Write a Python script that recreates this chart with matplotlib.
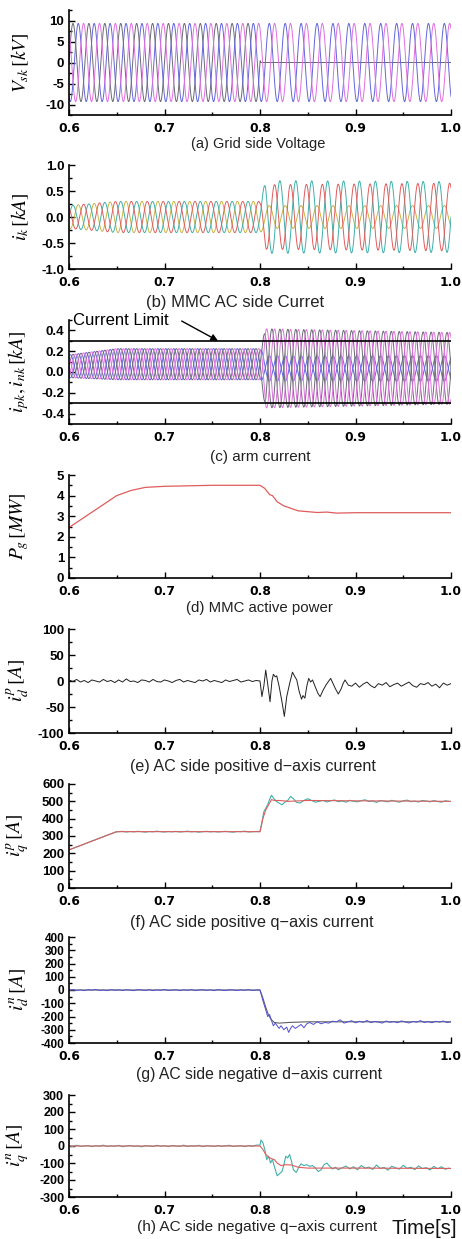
"""
plot.py

MMC fault response waveforms, 8 stacked panels (grid voltage, AC current,
arm current, active power, dq currents).
"""

import numpy as np
import matplotlib
matplotlib.use('Agg')
import matplotlib.pyplot as plt
from matplotlib.ticker import MultipleLocator, FormatStrFormatter

plt.rcParams['font.family'] = ['Liberation Sans', 'DejaVu Sans']
plt.rcParams['mathtext.fontset'] = 'stix'
plt.rcParams['axes.unicode_minus'] = False

# ---------------- data ----------------
F_GRID = 60.0                     # Hz, 6 cycles per 0.1 s
# (a) grid voltage amplitude envelope [kV]
v_env_t = [0.6, 0.8, 0.8005, 1.0]
v_amp_a = [9.3, 9.3, 0.0, 0.0]    # faulted phase goes to zero
v_amp_b = [9.3, 9.3, 9.3, 9.3]
v_amp_c = [9.3, 9.3, 9.3, 9.3]
v_phase = [0.0, -120.0, 120.0]    # deg

# (b) MMC AC side current amplitude envelope [kA]
i_env_t = [0.6, 0.65, 0.8, 0.806, 1.0]
i_amp_red = [0.22, 0.30, 0.30, 0.62, 0.65]
i_amp_teal = [0.22, 0.30, 0.30, 0.70, 0.68]
i_amp_olive = [0.22, 0.30, 0.30, 0.22, 0.22]
i_phase = [120.0, 0.0, -120.0]
# (c) arm current [kA]: dc part and ac amplitudes on the same envelope times
arm_dc = [0.055, 0.075, 0.075, 0.035, 0.035]
arm_amp_big = [0.11, 0.15, 0.15, 0.38, 0.345]
arm_amp_small = [0.11, 0.15, 0.15, 0.12, 0.12]
i_limit = 0.3

# (d) MMC active power [MW]
p_t = [0.6, 0.65, 0.665, 0.68, 0.70, 0.75, 0.80, 0.805, 0.81, 0.813, 0.818,
       0.825, 0.83, 0.84, 0.85, 0.86, 0.87, 0.88, 0.90, 1.0]
p_val = [2.45, 4.0, 4.25, 4.4, 4.45, 4.5, 4.5, 4.35, 4.05, 4.0, 3.7,
         3.5, 3.42, 3.26, 3.22, 3.18, 3.2, 3.15, 3.17, 3.17]

# (e) positive d-axis current [A]
ed_pre = [2, -1, 3, -2, 1, -3, 2, 0, -2, 3, -1, 1, -3, 2, -2, 4, -1, 0, -3, 2,
          1, -2, 3, -1, -2, 2, 0, -3, 1, 3, -2, 1, -1, -3, 2, 0, 3, -2, 1, -1,
          -3, 2, -1, 1, 3, -2, 0, 2, -1, 1]
ed_tr_t = [0.800, 0.802, 0.804, 0.806, 0.808, 0.8105, 0.8125, 0.814, 0.816,
           0.8175, 0.820, 0.823, 0.8255, 0.828, 0.831, 0.834, 0.836, 0.8385,
           0.841, 0.8435, 0.845, 0.847, 0.849, 0.851, 0.853, 0.855, 0.858,
           0.861, 0.863, 0.866, 0.869, 0.872, 0.874, 0.876, 0.879, 0.882,
           0.885, 0.887, 0.889, 0.8925]
ed_tr_v = [0, -30, -10, 21, -5, -40, 0, 13, 8, 10, -10, -40, -68, -30, -5, 17,
           10, 2, -20, -35, -28, -33, -10, 5, -2, 2, -12, -25, -30, -18, -8, 0,
           5, -3, -15, -25, -15, -5, 2, -8]
ed_post = [-10, -4, -12, -6, -2, -9, -13, -5, -8, -3, -11, -7, -4, -10, -6, -2,
           -9, -12, -5, -7, -3, -10, -6, -13, -4, -8, -5]

# (f) positive q-axis current [A]
fq_red_t = [0.6, 0.65, 0.8, 0.803, 0.806, 0.809, 0.812, 0.815, 0.82, 0.83,
            0.85, 0.9, 1.0]
fq_red_v = [220, 325, 325, 400, 450, 480, 510, 505, 505, 500, 505, 503, 500]
fq_pre = [220, 228, 237, 245, 254, 262, 271, 279, 288, 296, 305, 313, 322,
          325, 327, 323, 326, 324, 327, 325, 322, 326, 324, 328, 325, 323, 326,
          324, 327, 323, 325, 328, 324, 326, 322, 325, 327, 324, 326, 323, 325,
          327, 324, 322, 326, 325, 328, 323, 325, 326]
fq_tr_t = [0.800, 0.802, 0.804, 0.806, 0.808, 0.810, 0.812, 0.814, 0.817,
           0.820, 0.823, 0.826, 0.829, 0.832, 0.835, 0.838, 0.842, 0.846,
           0.850, 0.854, 0.858]
fq_tr_v = [325, 380, 440, 460, 480, 510, 535, 520, 500, 490, 480, 495, 505,
           528, 515, 495, 490, 505, 515, 505, 495]
fq_post = [500, 505, 496, 503, 508, 498, 502, 495, 506, 500, 497, 504, 509,
           499, 502, 494, 505, 501, 497, 506, 500, 495, 503, 507, 498, 501,
           496, 505, 502, 497, 504, 499, 495, 503, 500]

# (g) negative d-axis current [A]
gd_gray_t = [0.6, 0.8, 0.803, 0.806, 0.809, 0.812, 0.815, 0.82, 0.83, 0.85, 1.0]
gd_gray_v = [0, 0, -60, -130, -190, -225, -245, -250, -245, -240, -240]
gd_pre = [-2, 3, -4, 1, -5, 2, -1, 4, -3, 0, -5, 3, -2, 1, -4, 2, -1, -5, 3,
          0, -3, 2, -4, 1, -2, 4, -3, -1, 2, -5, 1, -2, 3, -4, 0, 2, -3, 1, -5,
          3, -1, -4, 2, 0, -3, 1, -2, 3, -4, 0]
gd_tr_t = [0.800, 0.803, 0.806, 0.808, 0.810, 0.812, 0.814, 0.816, 0.818,
           0.820, 0.822, 0.825, 0.828, 0.830, 0.832, 0.834, 0.837, 0.840,
           0.843, 0.846, 0.849, 0.852, 0.856, 0.860, 0.864, 0.868, 0.872,
           0.876, 0.880, 0.884, 0.888]
gd_tr_v = [0, -80, -150, -200, -185, -230, -270, -250, -270, -290, -270, -300,
           -280, -320, -290, -270, -290, -275, -260, -285, -255, -245, -260,
           -240, -255, -245, -250, -235, -240, -225, -250]
gd_post = [-240, -232, -248, -236, -244, -230, -246, -238, -242, -250, -234,
           -244, -238, -247, -233, -241, -249, -237, -243, -231, -245, -239,
           -247, -236, -242, -234, -246, -240]

# (h) negative q-axis current [A]
hq_red_t = [0.6, 0.8, 0.803, 0.806, 0.809, 0.812, 0.815, 0.818, 0.822, 0.827,
            0.833, 0.84, 0.85, 0.87, 0.9, 1.0]
hq_red_v = [0, 0, -20, -50, -65, -75, -80, -100, -115, -110, -112, -125,
            -130, -130, -130, -132]
hq_pre = [1, -3, 4, -2, 0, 3, -4, 2, -1, 5, -3, 1, -2, 4, -4, 0, 3, -2, 1, -5,
          2, 0, -3, 4, -1, 2, -4, 3, 0, -2, 5, -3, 1, -1, 4, -4, 2, 0, -3, 3,
          -2, 1, 4, -3, 0, 2, -4, 3, -1, 5]
hq_tr_t = [0.800, 0.801, 0.803, 0.805, 0.807, 0.809, 0.811, 0.813, 0.815,
           0.818, 0.821, 0.823, 0.825, 0.827, 0.829, 0.831, 0.833, 0.835,
           0.838, 0.841, 0.843, 0.846, 0.849, 0.852, 0.855, 0.858, 0.861,
           0.864, 0.867, 0.870, 0.873, 0.876, 0.879, 0.882]
hq_tr_v = [5, 35, 20, -20, -80, -60, -100, -80, -120, -175, -160, -150, -110,
           -60, -70, -50, -90, -140, -155, -120, -105, -115, -110, -120, -115,
           -130, -150, -140, -110, -100, -120, -135, -125, -140]
hq_post = [-128, -118, -135, -122, -140, -115, -130, -124, -138, -112, -132,
           -126, -142, -119, -129, -136, -114, -131, -125, -139, -117, -133,
           -127, -141, -120, -134, -122, -137, -130]

captions = ['(a) Grid side Voltage', '(b) MMC AC side Curret',
            '(c) arm current', '(d) MMC active power',
            '(e) AC side positive d\u2212axis current',
            '(f) AC side positive q\u2212axis current',
            '(g) AC side negative d\u2212axis current',
            '(h) AC side negative q\u2212axis current']
ylabels = [r'$V_{sk}\,[kV]$', r'$i_k\,[kA]$', r'$i_{pk},i_{nk}\,[kA]$',
           r'$P_g\,[MW]$', r'$i_d^p\,[A]$', r'$i_q^p\,[A]$', r'$i_d^n\,[A]$',
           r'$i_q^n\,[A]$']
ylims = [(-12.5, 12.5), (-1, 1), (-0.5, 0.5), (0, 5), (-100, 100), (0, 600),
         (-400, 400), (-300, 300)]
ymajor = [5, 0.5, 0.2, 1, 50, 100, 100, 100]
yfmt = ['%d', '%.1f', '%.1f', '%d', '%d', '%d', '%d', '%d']

# ---------------- colours ----------------
C_GRAY = '#6a6a74'
C_BLUE = '#6464dc'
C_PINK = '#e070e0'
C_RED = '#e05c5c'
C_TEAL = '#3fb0aa'
C_OLIVE = '#c8b446'

# ---------------- build waveforms ----------------
t = np.linspace(0.6, 1.0, 4001)
w = 2 * np.pi * F_GRID


def wave(env_t, amp, ph):
    return np.interp(t, env_t, amp) * np.sin(w * t + np.deg2rad(ph))


def trace(pre, tr_t, tr_v, post, post_start):
    tp = 0.6 + 0.004 * np.arange(len(pre))
    tq = post_start + 0.004 * np.arange(len(post))
    return (np.concatenate([tp, tr_t, tq]),
            np.concatenate([pre, tr_v, post]))


va = wave(v_env_t, v_amp_a, v_phase[0])
vb = wave(v_env_t, v_amp_b, v_phase[1])
vc = wave(v_env_t, v_amp_c, v_phase[2])

ia = wave(i_env_t, i_amp_teal, i_phase[1])
ib = wave(i_env_t, i_amp_red, i_phase[0])
ic = wave(i_env_t, i_amp_olive, i_phase[2])
dc = np.interp(t, i_env_t, arm_dc)

# ---------------- figure ----------------
fig = plt.figure(figsize=(4.62, 12.39), dpi=100)
H = 1239.0
W = 462.0
ax_px = [(10, 115), (165, 269), (320, 424), (475, 578), (629, 733),
         (784, 888), (937, 1043), (1095, 1197)]
cap_px = [(258, 144), (235, 302), (260, 457), (259, 608), (253, 767),
          (252, 923), (259, 1075), (257, 1227)]
cap_size = [10.5, 12, 11, 10.8, 11.6, 11.7, 11.3, 11.1]
ytick_size = [9.5, 9.5, 9.5, 9.5, 9.5, 9.5, 8.5, 9]

axs = []
for i, (top, bot) in enumerate(ax_px):
    ax = fig.add_axes([69 / W, 1 - bot / H, (451 - 69) / W, (bot - top) / H])
    ax.set_xlim(0.6, 1.0)
    ax.set_ylim(*ylims[i])
    for s in ['top', 'right']:
        ax.spines[s].set_visible(False)
    for s in ['left', 'bottom']:
        ax.spines[s].set_linewidth(1.2)
    ax.xaxis.set_major_locator(MultipleLocator(0.1))
    ax.xaxis.set_minor_locator(MultipleLocator(0.05))
    ax.xaxis.set_major_formatter(FormatStrFormatter('%.1f'))
    ax.yaxis.set_major_locator(MultipleLocator(ymajor[i]))
    ax.yaxis.set_minor_locator(MultipleLocator(ymajor[i] / 2))
    ax.yaxis.set_major_formatter(FormatStrFormatter(yfmt[i]))
    ax.tick_params(which='both', direction='in', width=1.0)
    ax.tick_params(which='major', length=4)
    ax.tick_params(which='minor', length=2.5)
    ax.tick_params(axis='x', pad=5)
    ax.tick_params(axis='y', pad=3.5)
    for lab in ax.get_xticklabels():
        lab.set_fontfamily('DejaVu Sans')
        lab.set_fontweight('bold')
        lab.set_fontsize(8.8)
    for lab in ax.get_yticklabels():
        lab.set_fontweight('bold')
        lab.set_fontsize(ytick_size[i])
    ax.set_ylabel(ylabels[i], fontsize=14)
    ax.yaxis.set_label_coords(-0.10, 0.5)
    fig.text(cap_px[i][0] / W, 1 - cap_px[i][1] / H, captions[i],
             ha='center', va='center', fontsize=cap_size[i], color='#222222')
    axs.append(ax)

lw = 0.7
# (a)
axs[0].plot(t, va, color=C_GRAY, lw=lw)
axs[0].plot(t, vb, color=C_BLUE, lw=lw)
axs[0].plot(t, vc, color=C_PINK, lw=lw)

# (b)
axs[1].plot(t, ic, color=C_OLIVE, lw=lw)
axs[1].plot(t, ia, color=C_TEAL, lw=lw)
axs[1].plot(t, ib, color=C_RED, lw=lw)

# (c)
big = np.interp(t, i_env_t, arm_amp_big)
small = np.interp(t, i_env_t, arm_amp_small)
for amp, ph, col in [(small, i_phase[2], C_BLUE), (big, i_phase[1], C_GRAY),
                     (big, i_phase[0], C_PINK)]:
    s = amp * np.sin(w * t + np.deg2rad(ph))
    axs[2].plot(t, dc + s, color=col, lw=lw)
    axs[2].plot(t, dc - s, color=col, lw=lw)
axs[2].axhline(i_limit, color='k', lw=1.2)
axs[2].axhline(-i_limit, color='k', lw=1.2)
axs[2].text(0.604, 0.45, 'Current Limit', fontsize=12, ha='left',
            va='baseline', clip_on=False)
axs[2].annotate('', xy=(0.756, i_limit), xytext=(0.718, 0.49),
                arrowprops=dict(arrowstyle='-|>', color='k', lw=1.0,
                                mutation_scale=10, shrinkA=0, shrinkB=0),
                annotation_clip=False)

# (d)
axs[3].plot(p_t, p_val, color=C_RED, lw=0.9)

# (e)
te, ve = trace(ed_pre, ed_tr_t, ed_tr_v, ed_post, 0.896)
axs[4].plot(te, ve, color='#202020', lw=0.7)

# (f)
tf, vf = trace(fq_pre, fq_tr_t, fq_tr_v, fq_post, 0.862)
axs[5].plot(tf, vf, color=C_TEAL, lw=0.8)
axs[5].plot(fq_red_t, fq_red_v, color=C_RED, lw=0.8)

# (g)
tg, vg = trace(gd_pre, gd_tr_t, gd_tr_v, gd_post, 0.892)
axs[6].plot(gd_gray_t, gd_gray_v, color='#606060', lw=0.8)
axs[6].plot(tg, vg, color='#5050d0', lw=0.7)

# (h)
th, vh = trace(hq_pre, hq_tr_t, hq_tr_v, hq_post, 0.886)
axs[7].plot(th, vh, color=C_TEAL, lw=0.8)
axs[7].plot(hq_red_t, hq_red_v, color=C_RED, lw=0.8)

fig.text(457 / W, 1 - 1234 / H, 'Time[s]', ha='right', va='baseline',
         fontsize=14.5, color='#111111')

fig.savefig('out.png', dpi=100)
